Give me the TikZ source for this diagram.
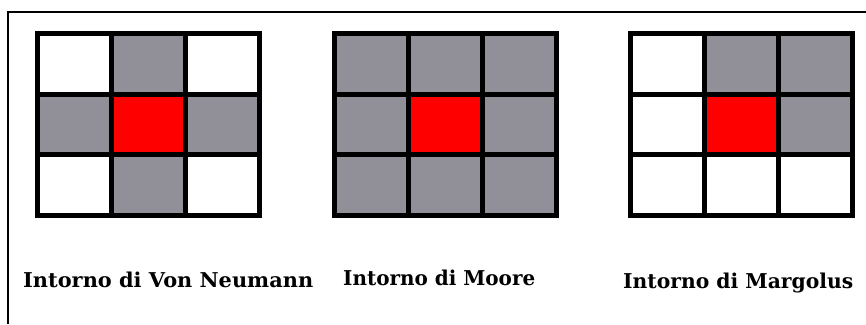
\documentclass[tikz,border=0pt]{standalone}
\usepackage{graphicx}
\usepackage{fontspec}
\setmainfont{DejaVu Serif}
\definecolor{cellgray}{RGB}{145,144,152}
\definecolor{cellred}{RGB}{255,0,0}
\tikzset{
  gridline/.style={draw=black,line width=5pt},
  framebar/.style={draw=black,line width=2pt},
  caption/.style={font=\fontsize{20pt}{22pt}\selectfont\bfseries,anchor=base west,inner sep=0pt}
}
\begin{document}
\begin{tikzpicture}[x=1pt,y=-1pt]
\useasboundingbox (0,0) rectangle (866,324);
\fill[white] (0,0) rectangle (866,324);
% outer frame (left and top)
\draw[framebar] (8,324) -- (8,12) -- (866,12);
% grids: x0 / cell colours listed row by row
\foreach \xo/\cols in {37.5/{white,cellgray,white,cellgray,cellred,cellgray,white,cellgray,white},
                       334.5/{cellgray,cellgray,cellgray,cellgray,cellred,cellgray,cellgray,cellgray,cellgray},
                       630.5/{white,cellgray,cellgray,white,cellred,cellgray,white,white,white}}{
  \foreach \c [count=\i from 0] in \cols {
    \pgfmathtruncatemacro{\cc}{mod(\i,3)}
    \pgfmathtruncatemacro{\rr}{div(\i,3)}
    \pgfmathsetmacro{\xa}{\xo+74*\cc}
    \pgfmathsetmacro{\xb}{\xo+74*(\cc+1)}
    \pgfmathsetmacro{\ya}{33.5+60.67*\rr}
    \pgfmathsetmacro{\yb}{33.5+60.67*(\rr+1)}
    \fill[\c] (\xa,\ya) rectangle (\xb,\yb);
  }
  \draw[gridline] (\xo,33.5) rectangle (\xo+222,215.5);
  \draw[gridline] (\xo+74,33.5) -- (\xo+74,215.5);
  \draw[gridline] (\xo+148,33.5) -- (\xo+148,215.5);
  \draw[gridline] (\xo,94.5) -- (\xo+222,94.5);
  \draw[gridline] (\xo,154.5) -- (\xo+222,154.5);
}
\node[caption] (vn) at (23,287) {\resizebox{290pt}{15.5pt}{Intorno di Von Neumann}};
\node[caption] (mo) at (343,285) {\resizebox{192pt}{15.5pt}{Intorno di Moore}};
\node[caption] (ma) at (623,288) {\resizebox{230pt}{15.5pt}{Intorno di Margolus}};
\end{tikzpicture}
\end{document}
